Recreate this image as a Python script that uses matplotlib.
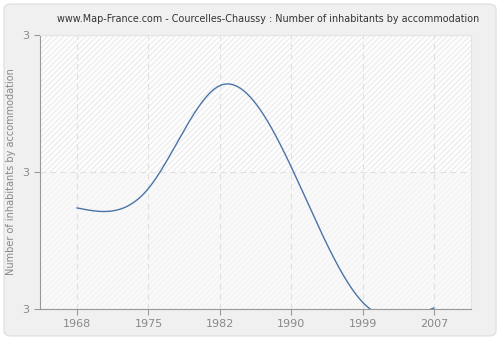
import numpy as np
import matplotlib
matplotlib.use("Agg")
import matplotlib.pyplot as plt
from matplotlib.patches import Rectangle, FancyBboxPatch

years = [1968, 1975, 1982, 1990, 1999, 2007]
values = [2.895, 2.952, 3.252, 3.015, 2.62, 2.603]
y_ticks = [2.6, 3.0, 3.4]
title = "www.Map-France.com - Courcelles-Chaussy : Number of inhabitants by accommodation"
ylabel = "Number of inhabitants by accommodation"


def natural_spline(x, y, xs):
    x = np.asarray(x, float)
    y = np.asarray(y, float)
    n = len(x)
    h = np.diff(x)
    A = np.zeros((n, n))
    b = np.zeros(n)
    A[0, 0] = A[-1, -1] = 1.0
    for i in range(1, n - 1):
        A[i, i - 1] = h[i - 1]
        A[i, i] = 2 * (h[i - 1] + h[i])
        A[i, i + 1] = h[i]
        b[i] = 3 * ((y[i + 1] - y[i]) / h[i] - (y[i] - y[i - 1]) / h[i - 1])
    c = np.linalg.solve(A, b)
    out = np.empty_like(xs)
    for k, xv in enumerate(xs):
        i = min(max(np.searchsorted(x, xv) - 1, 0), n - 2)
        dx = xv - x[i]
        bi = (y[i + 1] - y[i]) / h[i] - h[i] * (2 * c[i] + c[i + 1]) / 3
        di = (c[i + 1] - c[i]) / (3 * h[i])
        out[k] = y[i] + bi * dx + c[i] * dx ** 2 + di * dx ** 3
    return out


plt.rcParams["hatch.linewidth"] = 0.5

fig = plt.figure(figsize=(5, 3.4), dpi=100)
fig.patch.set_facecolor("white")
fig.patches.append(FancyBboxPatch((0.008, 0.012), 0.984, 0.976,
                                  boxstyle="round,pad=0,rounding_size=0.015",
                                  transform=fig.transFigure, facecolor="#f0f0f0",
                                  edgecolor="#e2e2e2", linewidth=1, zorder=-10))

ax = fig.add_axes([0.08, 0.0912, 0.862, 0.806])
pos = np.arange(len(years))
ax.set_xlim(-0.52, len(years) - 1 + 0.52)
ax.set_ylim(y_ticks[0], y_ticks[-1])
ax.set_facecolor("#fbfbfb")

# hatched background, stronger in the upper half
ax.add_patch(Rectangle((0, 0.5), 1, 0.5, transform=ax.transAxes, facecolor="#fdfdfd",
                       edgecolor="#e2e2e2", hatch="//////", linewidth=0, zorder=0))
ax.add_patch(Rectangle((0, 0), 1, 0.5, transform=ax.transAxes, facecolor="#f9f9f9",
                       edgecolor="#efefef", hatch="//////", linewidth=0, zorder=0))

xs = np.linspace(pos[0], pos[-1], 600)
ax.plot(xs, natural_spline(pos, values, xs), color="#4a74a6", linewidth=1.0, zorder=3)

ax.set_xticks(pos)
ax.set_xticklabels([str(y) for y in years])
ax.set_yticks(y_ticks)
ax.set_yticklabels(["%.0f" % v for v in y_ticks])
ax.grid(True, color="#e0e0e0", linestyle=(0, (5, 4)), linewidth=0.8, zorder=1)
ax.set_axisbelow(True)

for side in ("left", "bottom"):
    ax.spines[side].set_color("#999999")
for side in ("top", "right"):
    ax.spines[side].set_color("#e4e4e4")
ax.tick_params(colors="#999999", labelcolor="#888888", labelsize=8, length=4, width=0.8)

ax.set_ylabel(ylabel, color="#888888", fontsize=7, labelpad=5)
fig.text(0.536, 0.944, title, ha="center", va="center", fontsize=6.9, color="#333333")

fig.savefig("out.png", dpi=100, facecolor=fig.get_facecolor())
